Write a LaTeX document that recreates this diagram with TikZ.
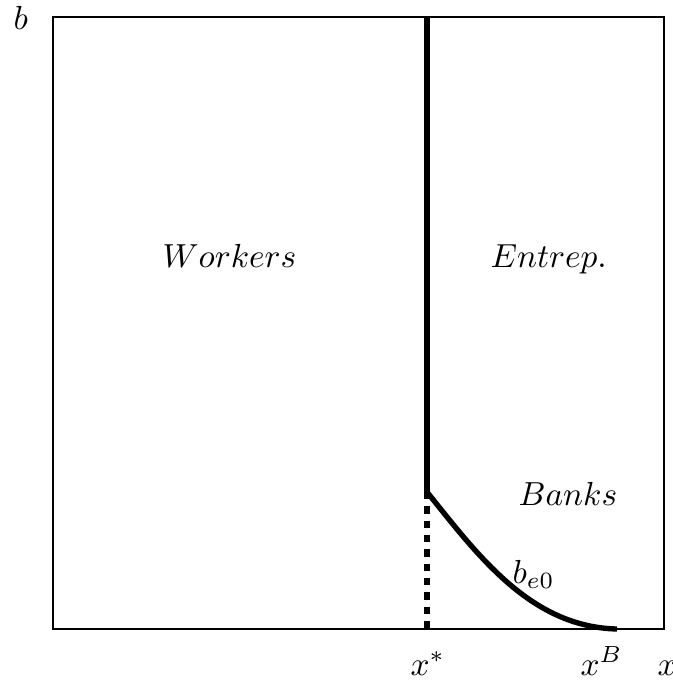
\documentclass[tikz,border=0pt]{standalone}
\begin{document}
\begin{tikzpicture}[x=0.3pt,y=-0.3pt,
  lbl/.style={inner sep=0pt, anchor=base west},
  frame/.style={line width=0.4pt},
  bound/.style={line width=1.6pt},
  dashbound/.style={bound, dash pattern=on 2.2pt off 2.1pt}]
\useasboundingbox (0,0) rectangle (673,684);
\draw[frame] (53,17) rectangle (664,629);
\coordinate (top) at (427,17);
\coordinate (kink) at (427,492);
\coordinate (xs) at (427,629);
\coordinate (xb) at (617,629);
\draw[bound] (top) -- (kink);
\draw[dashbound] (kink) -- (xs);
\draw[bound] (kink) .. controls (477,554) and (530,627) .. (xb);
\node[lbl] (lb) at (13,29) {$b$};
\node[lbl] (lw) at (162,267) {$Workers$};
\node[lbl] (le) at (490,267) {$Entrep.$};
\node[lbl] (lk) at (518,505) {$Banks$};
\node[lbl] (lbe) at (512,583) {$b_{e0}$};
\node[lbl] (lxs) at (410,675) {$x^*$};
\node[lbl] (lxb) at (580,675) {$x^B$};
\node[lbl] (lx) at (657,675) {$x$};
\end{tikzpicture}
\end{document}
